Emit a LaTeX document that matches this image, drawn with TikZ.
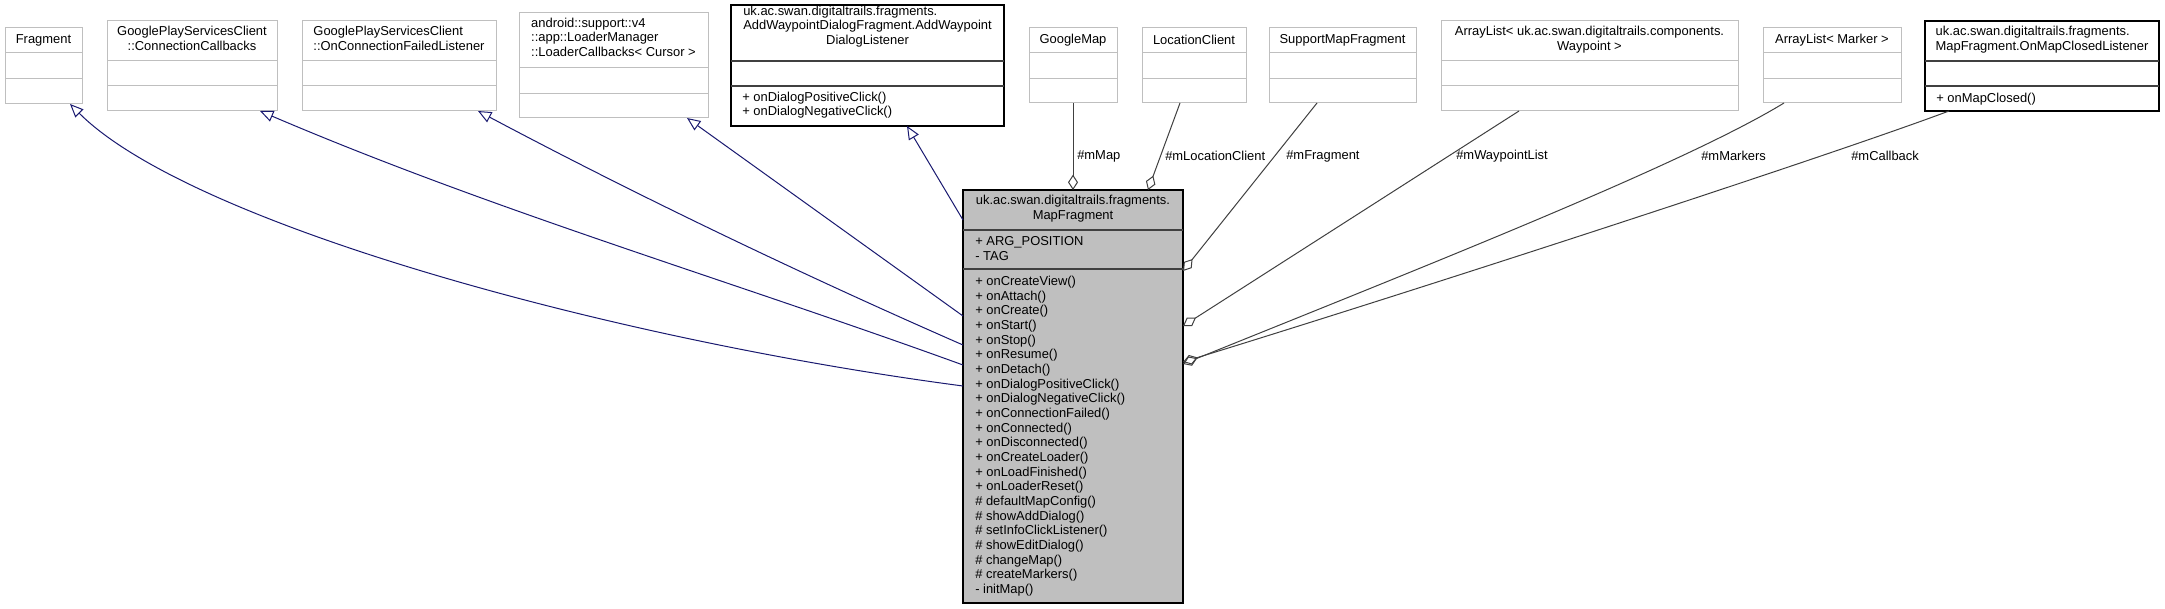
\documentclass[tikz,border=0pt]{standalone}
\usepackage{fontspec}
\setmainfont{Liberation Sans}
\usetikzlibrary{arrows.meta}
\definecolor{extgray}{HTML}{BFBFBF}
\definecolor{mfill}{HTML}{BFBFBF}
\definecolor{edgegray}{HTML}{404040}
\definecolor{inhblue}{HTML}{191970}
\newcommand\dxfont{\fontsize{9.7pt}{11pt}\selectfont}
\newcommand\umlclass[8]{%
  \node[#8, minimum width={(#4-#2)*0.75pt}, minimum height={(#5-#3)*0.75pt}] (#1) at ({(#2+#4)/2},{(#3+#5)/2}) {};
  \draw[#8 line] (#1.west |- 0,#6) -- (#1.east |- 0,#6);
  \draw[#8 line] (#1.west |- 0,#7) -- (#1.east |- 0,#7);
}
\tikzset{
  extbox/.style={draw=extgray, fill=white, line width=0.75pt, inner sep=0pt, outer sep=0pt},
  extbox line/.style={draw=extgray, line width=0.75pt},
  docbox/.style={draw=black, fill=white, line width=0.9pt, inner sep=0pt, outer sep=0pt},
  docbox line/.style={draw=edgegray, line width=1.2pt},
  mainbox/.style={draw=black, fill=mfill, line width=0.9pt, inner sep=0pt, outer sep=0pt},
  mainbox line/.style={draw=edgegray, line width=1.2pt},
  txt/.style={font=\dxfont, inner sep=0pt, text=black},
  txtl/.style={txt, anchor=west, align=left},
  lbl/.style={font=\dxfont, inner sep=0pt, anchor=west},
  inh/.style={draw=inhblue, line width=0.75pt, -{Triangle[open, length=10pt, width=8.5pt]}},
  agg/.style={draw=edgegray, line width=0.75pt, {Diamond[open, length=11.5pt, width=7.5pt]}-},
}
\begin{document}
\begin{tikzpicture}[x=0.75pt, y=-0.75pt]
\fill[white] (0,0) rectangle (2165,609);
\useasboundingbox (0,0) rectangle (2165,609);

% classes
\umlclass{fragment}{5}{28}{82}{104}{53}{79}{extbox}
\umlclass{cc}{107}{21}{277}{111}{61}{86}{extbox}
\umlclass{ocf}{302}{21}{496}{111}{61}{86}{extbox}
\umlclass{loader}{519}{13}{708}{118}{68}{94}{extbox}
\umlclass{awd}{731}{5}{1004}{126}{61}{86}{docbox}
\umlclass{gmap}{1029}{28}{1117}{103}{53}{79}{extbox}
\umlclass{lc}{1142}{28}{1246}{103}{53}{79}{extbox}
\umlclass{smf}{1269}{28}{1416}{103}{53}{79}{extbox}
\umlclass{alwp}{1441}{21}{1738}{111}{61}{86}{extbox}
\umlclass{alm}{1763}{28}{1901}{103}{53}{79}{extbox}
\umlclass{omcl}{1925}{21}{2159}{111}{61}{86}{docbox}
\umlclass{mf}{963}{190}{1183}{603}{230}{269}{mainbox}

% titles
\node[txt] (t-fragment) at (43.5,40.5) {Fragment};
\node[txt] (t-cc) at (192,40) {\begin{tabular}{@{}l@{}}GooglePlayServicesClient\\\multicolumn{1}{@{}c@{}}{::ConnectionCallbacks}\end{tabular}};
\node[txt] (t-ocf) at (399,40) {\begin{tabular}{@{}l@{}}GooglePlayServicesClient\\\multicolumn{1}{@{}c@{}}{::OnConnectionFailedListener}\end{tabular}};
\node[txt] (t-loader) at (613.5,39) {\begin{tabular}{@{}l@{}}android::support::v4\\::app::LoaderManager\\\multicolumn{1}{@{}c@{}}{::LoaderCallbacks< Cursor >}\end{tabular}};
\node[txt] (t-awd) at (867.5,27) {\begin{tabular}{@{}l@{}}uk.ac.swan.digitaltrails.fragments.\\AddWaypointDialogFragment.AddWaypoint\\\multicolumn{1}{@{}c@{}}{DialogListener}\end{tabular}};
\node[txtl] (m-awd) at (742,105) {+ onDialogPositiveClick()\\+ onDialogNegativeClick()};
\node[txt] (t-gmap) at (1073,40) {GoogleMap};
\node[txt] (t-lc) at (1194,40) {LocationClient};
\node[txt] (t-smf) at (1342.5,40) {SupportMapFragment};
\node[txt] (t-alwp) at (1589.5,40) {\begin{tabular}{@{}l@{}}ArrayList< uk.ac.swan.digitaltrails.components.\\\multicolumn{1}{@{}c@{}}{Waypoint >}\end{tabular}};
\node[txt] (t-alm) at (1832,40) {ArrayList< Marker >};
\node[txt] (t-omcl) at (2042,40) {\begin{tabular}{@{}l@{}}uk.ac.swan.digitaltrails.fragments.\\\multicolumn{1}{@{}c@{}}{MapFragment.OnMapClosedListener}\end{tabular}};
\node[txtl] (m-omcl) at (1936,99) {+ onMapClosed()};
\node[txt] (t-mf) at (1073,209) {\begin{tabular}{@{}l@{}}uk.ac.swan.digitaltrails.fragments.\\\multicolumn{1}{@{}c@{}}{MapFragment}\end{tabular}};
\node[txtl] (a-mf) at (975,248.5) {+ ARG\_POSITION\\- TAG};
\node[txtl] (m-mf) at (975,436) {+ onCreateView()\\+ onAttach()\\+ onCreate()\\+ onStart()\\+ onStop()\\+ onResume()\\+ onDetach()\\+ onDialogPositiveClick()\\+ onDialogNegativeClick()\\+ onConnectionFailed()\\+ onConnected()\\+ onDisconnected()\\+ onCreateLoader()\\+ onLoadFinished()\\+ onLoaderReset()\\\# defaultMapConfig()\\\# showAddDialog()\\\# setInfoClickListener()\\\# showEditDialog()\\\# changeMap()\\\# createMarkers()\\- initMap()};

% inheritance
\draw[inh] (mf.west |- 0,386) .. controls (613,340) and (190,224) .. (fragment.south -| 70,0);
\draw[inh] (mf.west |- 0,365) .. controls (729,280) and (494,211) .. (cc.south -| 260,0);
\draw[inh] (mf.west |- 0,345) .. controls (803,275) and (638,196) .. (ocf.south -| 478,0);
\draw[inh] (mf.west |- 0,316) -- (loader.south -| 687,0);
\draw[inh] (mf.west |- 0,220) -- (awd.south -| 907,0);

% aggregation
\draw[agg] (mf.north -| gmap.south) -- (gmap.south);
\draw[agg] (mf.north -| 1148,0) -- (lc.south -| 1180,0);
\draw[agg] (mf.east |- 0,271) -- (smf.south -| 1317,0);
\draw[agg] (mf.east |- 0,326) -- (alwp.south -| 1519,0);
\draw[agg] (mf.east |- 0,364) .. controls (1433,263) and (1684,164) .. (alm.south -| 1784,0);
\draw[agg] (mf.east |- 0,362) .. controls (1433,285) and (1829,156) .. (omcl.south -| 1949,0);

% labels
\node[lbl] (l-map) at (1077,156) {\#mMap};
\node[lbl] (l-lc) at (1165,156) {\#mLocationClient};
\node[lbl] (l-frag) at (1286,156) {\#mFragment};
\node[lbl] (l-wp) at (1456,156) {\#mWaypointList};
\node[lbl] (l-mk) at (1701,156) {\#mMarkers};
\node[lbl] (l-cb) at (1851,156) {\#mCallback};
\end{tikzpicture}
\end{document}
